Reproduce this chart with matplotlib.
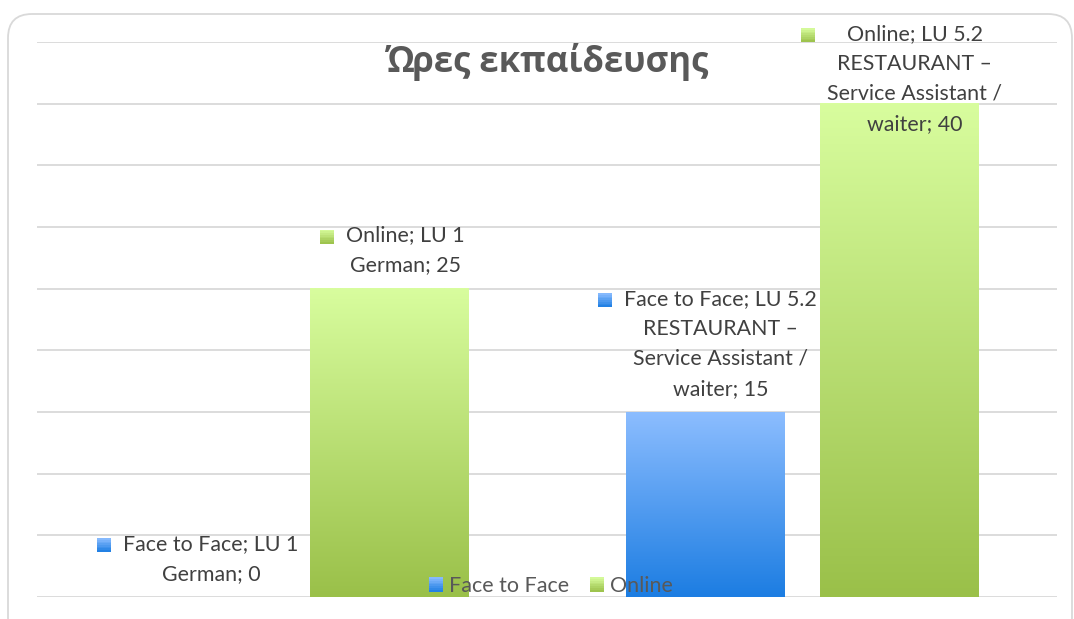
import numpy as np
import matplotlib
matplotlib.use("Agg")
import matplotlib.pyplot as plt
from matplotlib.colors import LinearSegmentedColormap
from matplotlib.patches import FancyBboxPatch, Rectangle
from matplotlib.transforms import IdentityTransform
from matplotlib.offsetbox import HPacker, TextArea, DrawingArea, AnnotationBbox
from matplotlib.legend_handler import HandlerBase

# ---------------- data ----------------
title = "Ώρες εκπαίδευσης"
categories = ["LU 1\nGerman", "LU 5.2\nRESTAURANT –\nService Assistant /\nwaiter"]
series_names = ["Face to Face", "Online"]
face_to_face = [0, 15]
online = [25, 40]

# ---------------- style ----------------
W, H, DPI = 1074, 619, 100
grad = {
    "Face to Face": ("#8CBDFF", "#1C7DE2"),
    "Online": ("#D8FD9E", "#9AC049"),
}
label_color = "#404040"
muted = "#595959"
grid_color = "#D9D9D9"
label_font = ["Lato", "DejaVu Sans"]
title_font = ["Open Sans", "DejaVu Sans"]

fig = plt.figure(figsize=(W / DPI, H / DPI), dpi=DPI)

# rounded chart border (pixel coords)
border = FancyBboxPatch((8, H - 642), 1064, 628,
                        boxstyle="round,pad=0,rounding_size=24",
                        transform=IdentityTransform(), fill=False,
                        edgecolor=grid_color, linewidth=1.3, zorder=0)
fig.patches.append(border)

ax = fig.add_axes([37 / W, 1 - 597 / H, (1057 - 37) / W, (597 - 42) / H])
ax.set_facecolor("none")
for s in ax.spines.values():
    s.set_visible(False)
ax.set_ylim(0, 45)
ax.set_yticks(np.arange(0, 46, 5))
ax.yaxis.grid(True, color=grid_color, linewidth=1.3)
ax.set_axisbelow(True)
ax.tick_params(left=False, bottom=False, labelleft=False, labelbottom=False)

x = np.arange(len(categories))
offset = 0.191
width = 0.31
all_series = {"Face to Face": face_to_face, "Online": online}


def cmap_for(name):
    top, bot = grad[name]
    return LinearSegmentedColormap.from_list(name, [bot, top])


def grad_square(name, size_pts=10, pad_top=3.0):
    da = DrawingArea(size_pts, size_pts + pad_top, 0, 0)
    cm = cmap_for(name)
    n = 8
    for i in range(n):
        da.add_artist(Rectangle((0, i * size_pts / n), size_pts, size_pts / n + 0.05,
                                facecolor=cm((i + 0.5) / n), edgecolor="none"))
    return da


label_fs = 15.4
for si, name in enumerate(series_names):
    vals = all_series[name]
    pos = x + (-offset if si == 0 else offset)
    bars = ax.bar(pos, vals, width, color="none", edgecolor="none", zorder=2)
    g = np.linspace(0, 1, 256).reshape(-1, 1)
    for b, v, cat in zip(bars, vals, categories):
        if b.get_height() > 0:
            ax.imshow(g, extent=[b.get_x(), b.get_x() + b.get_width(), 0, b.get_height()],
                      origin="lower", cmap=cmap_for(name), aspect="auto", zorder=2,
                      interpolation="bilinear")
        text = f"{name}; {cat}; {v}"
        ta = TextArea(text, textprops=dict(fontsize=label_fs, color=label_color,
                                           family=label_font, multialignment="center",
                                           linespacing=1.62))
        box = HPacker(children=[grad_square(name), ta], align="top", pad=0, sep=9)
        cx = b.get_x() + b.get_width() / 2
        if v > 0.75 * 45:
            ab = AnnotationBbox(box, (cx, 1.0), xycoords=("data", "axes fraction"),
                                xybox=(1.5, 13), boxcoords="offset points",
                                box_alignment=(0.5, 1), frameon=False, zorder=5)
        else:
            ab = AnnotationBbox(box, (cx, v), xycoords="data",
                                xybox=(2.2, 9.5), boxcoords="offset points",
                                box_alignment=(0.5, 0), frameon=False, zorder=5)
        ax.add_artist(ab)

ax.set_xlim(-0.5, len(categories) - 0.5)
ax.set_ylim(0, 45)

fig.text(548 / W, 1 - 62 / H, title, ha="center", va="center", fontsize=25,
         fontweight="bold", color=muted, family=title_font)


class GradHandler(HandlerBase):
    def create_artists(self, legend, orig_handle, xdescent, ydescent, width, height,
                       fontsize, trans):
        name = orig_handle.get_label()
        cm = cmap_for(name)
        n = 8
        arts = []
        for i in range(n):
            r = Rectangle((-xdescent, -ydescent + i * height / n), width, height / n + 0.05,
                          facecolor=cm((i + 0.5) / n), edgecolor="none", transform=trans)
            arts.append(r)
        return arts


handles = [Rectangle((0, 0), 1, 1, label=n) for n in series_names]
fig.legend(handles, series_names, handler_map={Rectangle: GradHandler()},
           loc="center", bbox_to_anchor=(551 / W, 1 - 586 / H), ncol=2, frameon=False,
           handlelength=0.65, handleheight=0.65, handletextpad=0.3, columnspacing=0.95,
           prop=dict(family=label_font, size=15.5), labelcolor=muted)

fig.savefig("out.png", dpi=DPI)
